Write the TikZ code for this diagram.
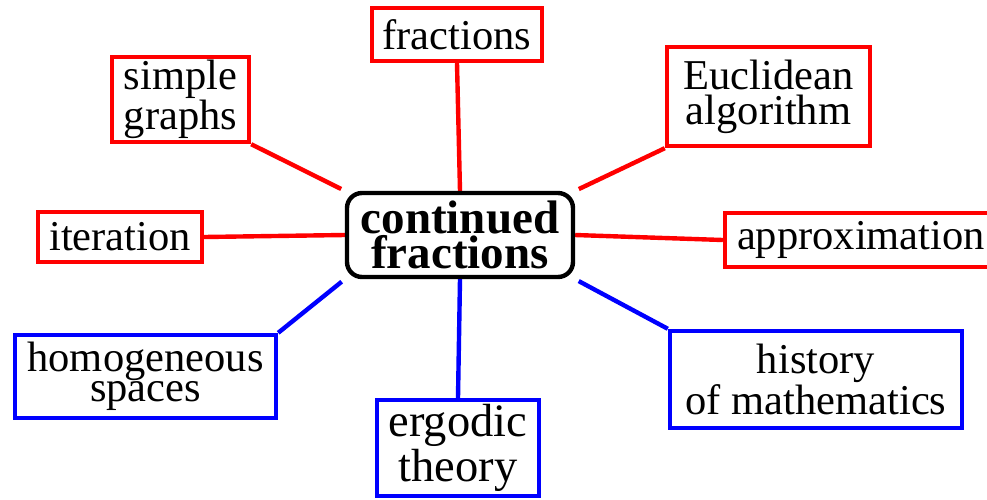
\documentclass[tikz,border=0pt]{standalone}
\usepackage{fontspec}
\setmainfont{Liberation Serif}
\usetikzlibrary{backgrounds}

\tikzset{
  topic/.style={draw=red, line width=2.2pt, fill=white, inner sep=0pt, align=center,
    font=\rmfamily\fontsize{21.25}{16.5}\selectfont},
  far/.style={topic, draw=blue},
  hub/.style={draw=black, line width=2.2pt, fill=white, rounded corners=7.5pt, inner sep=0pt,
    align=center, font=\rmfamily\fontsize{23.5}{16.5}\selectfont\bfseries},
  redlink/.style={draw=red, line width=2.2pt},
  bluelink/.style={draw=blue, line width=2.2pt}
}

\begin{document}
\begin{tikzpicture}[x=0.5pt, y=-0.5pt]
    \useasboundingbox (0,0) rectangle (987,499);
    \node[hub, minimum width=113pt, minimum height=42pt] (cf) at (460,235) {continued\\fractions};
    \node[topic, minimum width=85pt, minimum height=26.5pt] (fr) at (457,34.5) {fractions};
    \node[topic, minimum width=68.5pt, minimum height=42.5pt] (sg) at (180.5,99.5) {simple\\graphs};
    \node[topic, minimum width=101.5pt, minimum height=49.5pt, font=\rmfamily\fontsize{21.25}{17.5}\selectfont] (eu) at (768.5,96.5) {Euclidean\\algorithm};
    \node[topic, minimum width=82pt, minimum height=25pt] (it) at (120,237) {iteration};
    \node[topic, minimum width=136pt, minimum height=27pt] (ap) at (861,240) {approximation};
    \node[far, minimum width=130.5pt, minimum height=41.5pt, font=\rmfamily\fontsize{21.25}{15}\selectfont] (hs) at (145.5,376.5) {homogeneous\\spaces};
    \node[far, minimum width=81pt, minimum height=48pt, font=\rmfamily\fontsize{23.25}{16.5}\selectfont] (eg) at (458,448) {ergodic\\theory};
    \node[far, minimum width=146pt, minimum height=48.5pt, font=\rmfamily\fontsize{21.25}{18.5}\selectfont] (hm) at (816,379.5) {history\\of mathematics};
    \begin{scope}[on background layer]
        \draw[redlink] (fr.south) -- (cf.north);
        \draw[redlink, shorten >=2pt] (sg.south east) -- (cf.north west);
        \draw[redlink, shorten >=2pt] (eu.south west) -- (cf.north east);
        \draw[redlink] (it.east) -- (cf.west);
        \draw[redlink] (ap.west) -- (cf.east);
        \draw[bluelink, shorten >=2pt] (hs.north east) -- (cf.south west);
        \draw[bluelink] (eg.north) -- (cf.south);
        \draw[bluelink, shorten >=2pt] (hm.north west) -- (cf.south east);
    \end{scope}
\end{tikzpicture}
\end{document}
